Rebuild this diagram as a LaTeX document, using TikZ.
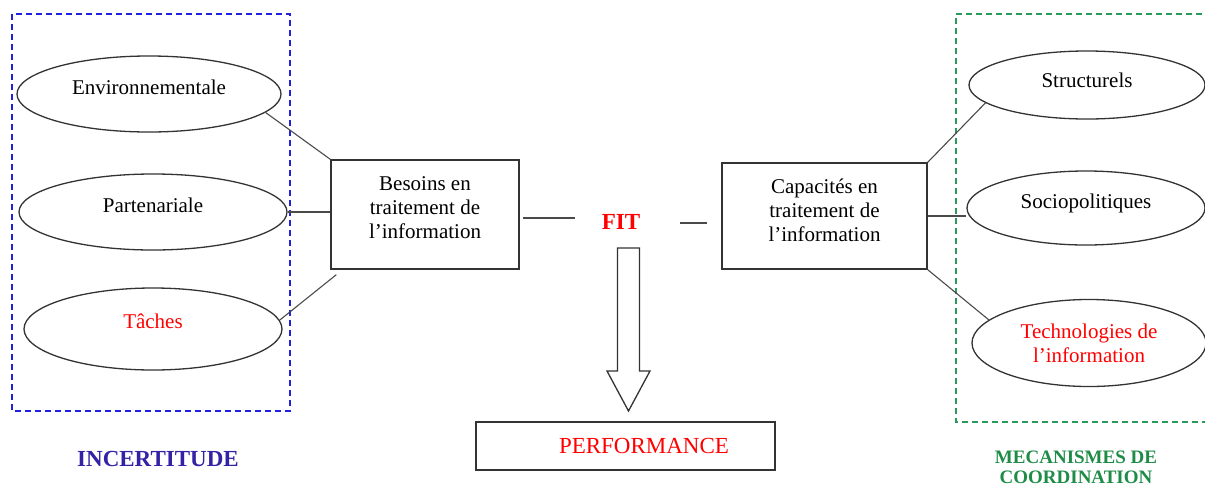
\documentclass[tikz,border=0pt]{standalone}
\usepackage{fontspec}
\setmainfont{Liberation Serif}
\usetikzlibrary{shapes.geometric,calc}

\definecolor{frameblue}{HTML}{2020E0}
\definecolor{framegreen}{HTML}{2A9A5A}
\definecolor{titleblue}{HTML}{3322A6}
\definecolor{titlegreen}{HTML}{1E8C46}
\definecolor{inkgray}{HTML}{333333}
\definecolor{linkgray}{HTML}{4A4A4A}

\tikzset{
  oval/.style={ellipse, draw=inkgray, line width=1.3pt, inner sep=0pt},
  infobox/.style={rectangle, draw=inkgray, line width=1.4pt, inner sep=0pt},
  txt/.style={font=\fontsize{21}{24}\selectfont, align=center, inner sep=0pt},
  redtxt/.style={txt, text=red},
  link/.style={draw=linkgray, line width=1.1pt},
  bluedash/.style={draw=frameblue, line width=1.5pt, dash pattern=on 6pt off 4pt},
  greendash/.style={draw=framegreen, line width=1.5pt, dash pattern=on 6pt off 4pt},
  blockarrow/.style={draw=inkgray, line width=1.3pt, line join=miter}
}

\begin{document}
\begin{tikzpicture}[x=1pt, y=-1pt]
  \useasboundingbox (0,0) rectangle (1205,488);

  % uncertainty group (left)
  \draw[bluedash] (12,14) rectangle (290,411);
  \node[oval, minimum width=264pt, minimum height=76pt] (env) at (149,94) {};
  \node[txt] (envt) at ([yshift=7pt]env.center) {Environnementale};
  \node[oval, minimum width=268pt, minimum height=76pt] (part) at (153,212) {};
  \node[txt] (partt) at ([yshift=7pt]part.center) {Partenariale};
  \node[oval, minimum width=258pt, minimum height=82pt] (tache) at (153,329) {};
  \node[redtxt] (tachet) at ([yshift=8pt]tache.center) {Tâches};

  % information processing needs
  \node[infobox, minimum width=188pt, minimum height=109pt] (besoins) at (425,214.5) {};
  \node[txt] (besoinst) at (425,208) {Besoins en\\traitement de\\l’information};

  \draw[link] (env.-9) -- (besoins.north west);
  \draw[link] (part.east) -- (part.east -| besoins.west);
  \coordinate (tend) at ($(besoins.south west)+(6,5)$);
  \draw[link] (tache.4) -- (tend);

  % fit between needs and capacities
  \node[font=\fontsize{23}{26}\selectfont\bfseries, text=red, inner sep=0pt] (fit) at (621,222) {FIT};
  \coordinate (fa) at (523,218);
  \coordinate (fb) at (575,218);
  \draw[link] (fa) -- (fb);
  \coordinate (fc) at (680,223);
  \coordinate (fd) at (707,223);
  \draw[link] (fc) -- (fd);

  % information processing capacities
  \node[infobox, minimum width=205pt, minimum height=106pt] (capa) at (824.5,216) {};
  \node[txt] (capat) at (824.5,210) {Capacités en\\traitement de\\l’information};

  % coordination mechanisms group (right)
  \draw[greendash] (1212,14) -- (956,14) -- (956,422) -- (1212,422);
  \node[oval, minimum width=236pt, minimum height=68pt] (struct) at (1087,85) {};
  \node[txt] (structt) at ([yshift=5pt]struct.center) {Structurels};
  \node[oval, minimum width=238pt, minimum height=74pt] (socio) at (1086,208) {};
  \node[txt] (sociot) at ([yshift=5pt]socio.center) {Sociopolitiques};
  \node[oval, minimum width=234pt, minimum height=87pt] (tech) at (1089,343) {};
  \node[redtxt] (techt) at ([yshift=0pt]tech.center) {Technologies de\\l’information};

  \draw[link] (capa.north east) -- (struct.190);
  \draw[link] (capa.east) -- (capa.east -| socio.west);
  \draw[link] (capa.south east) -- (tech.167);

  % outcome
  \draw[blockarrow] (617.5,248) -- (639.5,248) -- (639.5,371) -- (650,371)
        -- (628.5,411) -- (607,371) -- (617.5,371) -- cycle;
  \node[infobox, minimum width=299pt, minimum height=48pt] (perf) at (625.5,446) {};
  \node[font=\fontsize{23}{26}\selectfont, text=red, inner sep=0pt] (perft) at (644,446) {PERFORMANCE};

  % group titles
  \node[font=\fontsize{23}{26}\selectfont\bfseries, text=titleblue, inner sep=0pt] (inc) at (158,459) {INCERTITUDE};
  \node[font=\fontsize{19}{20}\selectfont\bfseries, text=titlegreen, align=center, inner sep=0pt] (meca) at (1076,467) {MECANISMES DE\\COORDINATION};
\end{tikzpicture}
\end{document}
